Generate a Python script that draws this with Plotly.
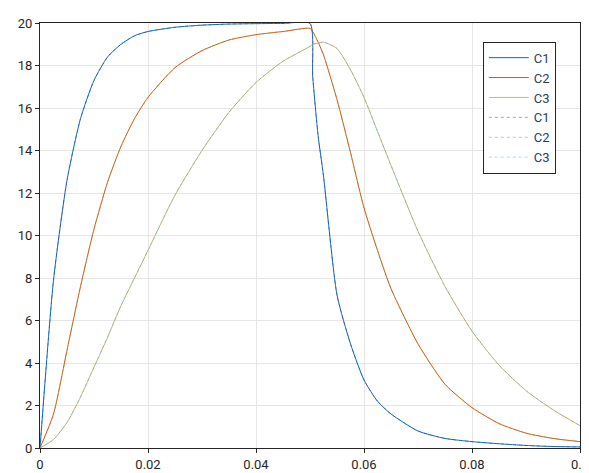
import plotly.graph_objects as go

t = [0, 0.0025, 0.005, 0.0075, 0.01, 0.0125, 0.015, 0.0175, 0.02, 0.025, 0.03, 0.035, 0.04, 0.045, 0.05,
     0.0505, 0.0515, 0.0525, 0.055, 0.0575, 0.06, 0.0625, 0.065, 0.07, 0.075, 0.08, 0.085, 0.09, 0.095, 0.1]

c1 = [0, 7.9, 12.6, 15.5, 17.3, 18.4, 19.0, 19.4, 19.6, 19.8, 19.9, 19.95, 19.97, 19.98, 19.98,
      17.5, 14.7, 12.8, 7.2, 4.9, 3.2, 2.2, 1.6, 0.8, 0.45, 0.3, 0.2, 0.12, 0.07, 0.05]
c2 = [0, 1.6, 4.6, 7.6, 10.3, 12.5, 14.2, 15.5, 16.5, 17.9, 18.7, 19.2, 19.45, 19.6, 19.75,
      19.6, 19.1, 18.5, 16.4, 13.9, 11.3, 9.3, 7.5, 4.9, 3.0, 1.9, 1.15, 0.7, 0.45, 0.3]
c3 = [0, 0.4, 1.2, 2.4, 3.8, 5.2, 6.7, 8.0, 9.3, 11.9, 14.0, 15.8, 17.2, 18.2, 18.9,
      19.0, 19.05, 19.1, 18.8, 17.8, 16.5, 14.9, 13.3, 10.2, 7.6, 5.5, 3.9, 2.7, 1.8, 1.05]

names = ['C1', 'C2', 'C3']
solid_colors = ['#0072BD', '#D95319', '#C9B56A']
dot_colors = ['#7E2F8E', '#77AC30', '#4DBEEE']
xticks = [0, 0.02, 0.04, 0.06, 0.08, 0.1]
xlabels = ['0', '0.02', '0.04', '0.06', '0.08', '0.1']

fig = go.Figure()
for y, n, c in zip([c1, c2, c3], names, solid_colors):
    fig.add_trace(go.Scatter(x=t, y=y, name=n, mode='lines',
                             line=dict(color=c, width=1, shape='spline', smoothing=0.6)))
for y, n, c in zip([c1, c2, c3], names, dot_colors):
    fig.add_trace(go.Scatter(x=t, y=y, name=n, mode='lines', opacity=0.5,
                             line=dict(color=c, width=1, dash='dot', shape='spline', smoothing=0.6)))

ax = dict(showgrid=True, gridcolor='#e6e6e6', showline=True, linecolor='#262626', mirror=True,
          zeroline=False, ticks='outside', ticklen=4, tickcolor='#262626',
          tickfont=dict(family='Roboto', size=13, color='#262626'))
fig.update_layout(
    width=589, height=473, margin=dict(l=32, r=16, t=8, b=33),
    plot_bgcolor='white', paper_bgcolor='white',
    xaxis=dict(range=[0, 0.1], tickvals=xticks, ticktext=xlabels, **ax),
    yaxis=dict(range=[0, 20], dtick=2, **ax),
    legend=dict(x=0.82, y=0.956, xanchor='left', yanchor='top', bgcolor='white',
                bordercolor='#262626', borderwidth=1, font=dict(family='Roboto', size=13),
                tracegroupgap=0, itemwidth=40),
    showlegend=True,
)
fig.write_html("out.html")
